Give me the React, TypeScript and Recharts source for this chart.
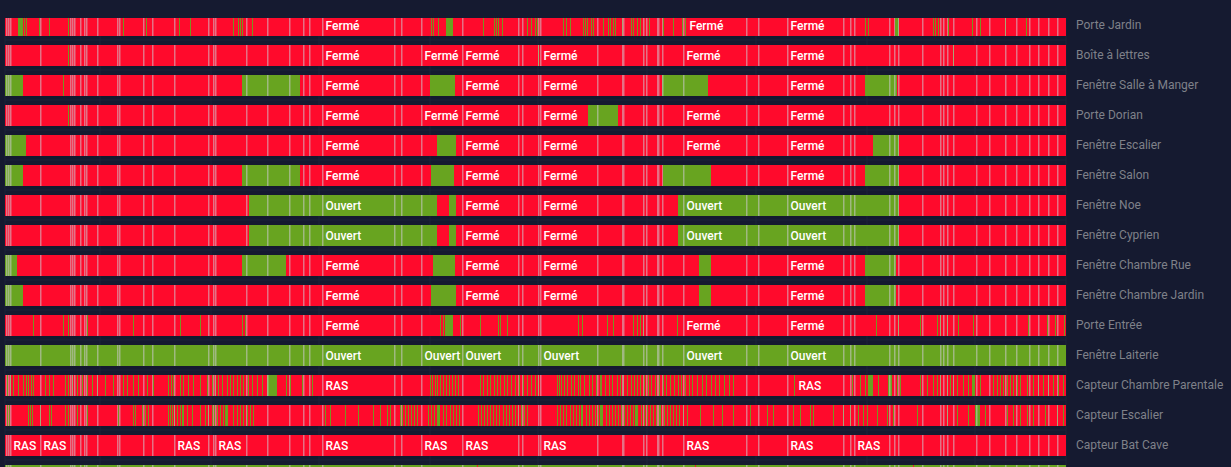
import React from 'react';
import { BarChart, Bar, XAxis, YAxis, CartesianGrid } from 'recharts';

// ---- time range (arbitrary minute units) ----
const T_START = 5;
const T_END = 1066;

// common sample timestamps (shown as light separators in every row)
const SAMPLE_TIMES = [6, 8, 10, 40, 70, 72, 74, 80, 84, 86, 97, 117, 119, 143, 152, 174, 208, 213, 215, 246, 267, 289, 303, 309, 322, 394, 401, 421, 462, 518, 522, 538, 540, 597, 622, 623, 643, 646, 657, 658, 662, 683, 746, 758, 787, 843, 850, 854, 889, 894, 898, 922, 940, 943, 947, 953, 976, 989, 1005, 1016, 1029, 1038, 1048, 1057];

const GRID_TIMES = [100, 211, 319, 430, 538, 647, 756, 867, 975];

const ROW_NAMES = [
  'Porte Jardin',
  'Boîte à lettres',
  'Fenêtre Salle à Manger',
  'Porte Dorian',
  'Fenêtre Escalier',
  'Fenêtre Salon',
  'Fenêtre Noe',
  'Fenêtre Cyprien',
  'Fenêtre Chambre Rue',
  'Fenêtre Chambre Jardin',
  'Porte Entrée',
  'Fenêtre Laiterie',
  'Capteur Chambre Parentale',
  'Capteur Escalier',
  'Capteur Bat Cave',
  '',
];

// 0 = closed / RAS (red), 1 = open / detection (green)
const BASE_STATE = [0, 0, 0, 0, 0, 0, 0, 0, 0, 0, 0, 1, 0, 0, 0, 1];
// which label set each row uses: 0 = door/window, 1 = sensor, 2 = not visible
const LABEL_SET = [0, 0, 0, 0, 0, 0, 0, 0, 0, 0, 0, 0, 1, 1, 1, 2];

const DOOR_LABELS = ['Fermé', 'Ouvert'];
const SENSOR_LABELS = ['RAS', ''];
const NO_LABELS = ['', ''];
const LABEL_SETS = [DOOR_LABELS, SENSOR_LABELS, NO_LABELS];

// intervals in the opposite state
const ROW1_BLOCKS = [[18, 23], [446, 453], [895, 899]];
const ROW1_BLIPS = [24, 26, 39, 49, 68, 123, 146, 179, 190, 233, 238, 240, 242, 252, 431, 433, 438, 483, 494, 496, 498, 502, 527, 531, 535, 537, 563, 566, 570, 583, 585, 587, 591, 593, 603, 608, 610, 613, 615, 622, 631, 633, 637, 640, 649, 663, 673, 682, 685, 865, 868, 933, 935, 938, 948, 972, 980, 1005, 1026];
const ROW2_BLOCKS: number[][] = [];
const ROW2_BLIPS = [68, 538, 953];
const ROW3_BLOCKS = [[5, 23], [242, 300], [430, 455], [662, 708], [865, 897]];
const ROW3_BLIPS = [63];
const ROW4_BLOCKS = [[588, 618]];
const ROW4_BLIPS = [68];
const ROW5_BLOCKS = [[5, 26], [437, 456], [873, 899]];
const ROW5_BLIPS: number[] = [];
const ROW6_BLOCKS = [[5, 23], [242, 300], [431, 454], [663, 711], [865, 899]];
const ROW6_BLIPS = [263];
const ROW7_BLOCKS = [[249, 437], [449, 456], [678, 899]];
const ROW7_BLIPS: number[] = [];
const ROW8_BLOCKS = [[249, 437], [449, 456], [678, 899]];
const ROW8_BLIPS: number[] = [];
const ROW9_BLOCKS = [[5, 17], [242, 286], [433, 455], [699, 711], [865, 896]];
const ROW9_BLIPS: number[] = [];
const ROW10_BLOCKS = [[5, 23], [431, 456], [699, 711], [865, 896]];
const ROW10_BLIPS: number[] = [];
const ROW11_BLOCKS = [[445, 453]];
const ROW11_BLIPS = [33, 63, 68, 87, 133, 180, 200, 242, 245, 440, 443, 460, 480, 498, 500, 507, 578, 582, 607, 613, 633, 637, 640, 643, 677, 876, 898, 920, 937, 940, 947, 958, 973, 1028, 1047, 1055, 1064];
const ROW12_BLOCKS: number[][] = [];
const ROW12_BLIPS: number[] = [];
const ROW13_BLOCKS = [[267, 277], [868, 873], [888, 892], [972, 975]];
const ROW13_BLIPS = [7, 10, 13, 18, 23, 26, 28, 31, 33, 45, 49, 53, 65, 68, 72, 77, 82, 87, 92, 97, 105, 113, 123, 127, 133, 138, 147, 153, 168, 171, 173, 180, 183, 188, 193, 200, 207, 212, 215, 218, 222, 227, 230, 233, 237, 240, 243, 248, 252, 257, 262, 286, 290, 302, 312, 430, 432, 435, 437, 440, 443, 446, 449, 452, 455, 458, 480, 483, 487, 490, 494, 497, 500, 504, 507, 511, 515, 519, 523, 527, 531, 535, 538, 557, 559, 561, 564, 567, 571, 574, 578, 580, 584, 589, 592, 596, 600, 601, 605, 609, 612, 617, 620, 623, 627, 631, 634, 637, 640, 644, 648, 651, 655, 659, 663, 666, 670, 674, 678, 681, 685, 689, 692, 697, 702, 706, 711, 715, 719, 724, 729, 733, 794, 852, 860, 865, 878, 897, 900, 920, 927, 933, 937, 940, 947, 950, 953, 957, 963, 968, 980, 993, 997, 1000, 1003, 1007, 1010, 1013, 1017, 1020, 1027, 1033, 1038, 1043, 1048, 1053, 1058, 1063];
const ROW14_BLOCKS = [[182, 184], [226, 228], [437, 440], [581, 583], [600, 603], [635, 638], [659, 661], [975, 980]];
const ROW14_BLIPS = [7, 9, 28, 30, 32, 40, 49, 51, 65, 68, 77, 87, 118, 133, 135, 142, 145, 148, 168, 170, 172, 174, 177, 180, 187, 192, 200, 205, 208, 212, 214, 217, 220, 223, 225, 233, 237, 240, 243, 247, 250, 253, 325, 330, 345, 358, 373, 380, 387, 390, 400, 402, 405, 408, 411, 414, 417, 428, 431, 434, 443, 446, 450, 453, 456, 459, 478, 481, 484, 487, 490, 493, 496, 499, 503, 506, 509, 512, 515, 518, 521, 524, 527, 557, 560, 563, 566, 570, 573, 576, 579, 586, 589, 592, 595, 598, 606, 609, 612, 615, 618, 621, 624, 627, 630, 633, 641, 644, 647, 650, 653, 656, 664, 667, 670, 673, 676, 679, 683, 687, 700, 713, 722, 733, 750, 767, 773, 793, 800, 810, 813, 833, 843, 850, 858, 863, 867, 877, 887, 893, 917, 947, 957, 968, 985, 1007, 1013, 1020, 1027, 1033, 1045, 1057, 1063];
const ROW15_BLOCKS: number[][] = [];
const ROW15_BLIPS: number[] = [];
const ROW16_BLOCKS: number[][] = [];
const ROW16_BLIPS = [477, 695, 913];

const ALL_BLOCKS = [ROW1_BLOCKS, ROW2_BLOCKS, ROW3_BLOCKS, ROW4_BLOCKS, ROW5_BLOCKS, ROW6_BLOCKS, ROW7_BLOCKS, ROW8_BLOCKS, ROW9_BLOCKS, ROW10_BLOCKS, ROW11_BLOCKS, ROW12_BLOCKS, ROW13_BLOCKS, ROW14_BLOCKS, ROW15_BLOCKS, ROW16_BLOCKS];
const ALL_BLIPS = [ROW1_BLIPS, ROW2_BLIPS, ROW3_BLIPS, ROW4_BLIPS, ROW5_BLIPS, ROW6_BLIPS, ROW7_BLIPS, ROW8_BLIPS, ROW9_BLIPS, ROW10_BLIPS, ROW11_BLIPS, ROW12_BLIPS, ROW13_BLIPS, ROW14_BLIPS, ROW15_BLIPS, ROW16_BLIPS];

const BLIP_DURATION = 0.9;

const BG = '#151a30';
const GRID = '#1d2239';
const RED = '#ff0a2c';
const GREEN = '#68a420';
const PALE = 'rgba(205, 200, 210, 0.55)';
const AXIS_TEXT = '#7f8189';
const FONT = 'Roboto, "Noto Sans", sans-serif';

const TEXT_WIDTH: Record<string, number> = { 'Fermé': 33, 'Ouvert': 35, 'RAS': 24 };

type Segment = { row: number; range: [number, number]; state: number; edge: boolean; text: string };

function buildSegments(): Segment[] {
  const sampleSet = new Set(SAMPLE_TIMES);
  const out: Segment[] = [];
  ROW_NAMES.forEach((_, ri) => {
    const base = BASE_STATE[ri];
    const labels = LABEL_SETS[LABEL_SET[ri]];
    const flips: number[][] = [
      ...ALL_BLOCKS[ri],
      ...ALL_BLIPS[ri].map((b) => [b, b + BLIP_DURATION]),
    ];
    const pts = new Set<number>([T_START, T_END, ...SAMPLE_TIMES]);
    flips.forEach(([s, e]) => {
      pts.add(Math.max(T_START, s));
      pts.add(Math.min(T_END, e));
    });
    const sorted = Array.from(pts).filter((p) => p >= T_START && p <= T_END).sort((a, b) => a - b);
    for (let i = 0; i < sorted.length - 1; i++) {
      const a = sorted[i];
      const b = sorted[i + 1];
      if (b - a <= 0) continue;
      const mid = (a + b) / 2;
      const flipped = flips.some(([s, e]) => mid > s && mid < e);
      const state = flipped ? 1 - base : base;
      out.push({ row: ri, range: [a, b], state, edge: sampleSet.has(a), text: labels[state] });
    }
  });
  return out;
}

const SEGMENTS = buildSegments();

const SegmentShape = (props: any) => {
  const { x, y, width, height } = props;
  const p: Segment = props.payload || props;
  if (width == null || !(width > 0)) return null;
  const fill = p.state === 1 ? GREEN : RED;
  const tw = TEXT_WIDTH[p.text];
  const showText = !!p.text && tw != null && width >= tw + 6;
  return (
    <g>
      <rect x={x} y={y} width={width + 0.5} height={height} fill={fill} />
      {p.edge && <rect x={x} y={y} width={1.5} height={height} fill={PALE} />}
      {showText && (
        <text
          x={x + 3.5}
          y={y + height / 2}
          dominantBaseline="central"
          fill="#ffffff"
          fontSize={12}
          fontWeight={500}
          fontFamily={FONT}
        >
          {p.text}
        </text>
      )}
    </g>
  );
};

const RowTick = (props: any) => {
  const { x, y, payload } = props;
  const name = ROW_NAMES[payload.value] ?? '';
  if (!name) return null;
  return (
    <text x={x} y={y} dominantBaseline="central" textAnchor="start" fill={AXIS_TEXT} fontSize={12} fontFamily={FONT}>
      {name}
    </text>
  );
};

const ROW_INDEXES = ROW_NAMES.map((_, i) => i);
const ROW_DOMAIN: [number, number] = [-0.5, ROW_NAMES.length - 0.5];

export default function App() {
  return (
    <div style={{ position: 'absolute', left: 0, top: 0, width: 1231, height: 467, background: BG, overflow: 'hidden' }}>
      <div style={{ position: 'absolute', left: 0, top: 18, width: 1231, height: 449, overflow: 'hidden' }}>
        <div style={{ position: 'absolute', left: 0, top: -8.5 }}>
          <BarChart
            width={1231}
            height={480}
            data={SEGMENTS}
            layout="vertical"
            margin={{ top: 0, right: 0, bottom: 0, left: 5 }}
          >
            <CartesianGrid
              stroke={GRID}
              vertical={true}
              horizontalCoordinatesGenerator={({ offset }: any) =>
                ROW_NAMES.map((_, i) => offset.top + (i * offset.height) / ROW_NAMES.length).concat([offset.top + offset.height])
              }
            />
            <XAxis type="number" domain={[T_START, T_END]} allowDataOverflow ticks={GRID_TIMES} hide />
            <YAxis
              type="number"
              dataKey="row"
              domain={() => ROW_DOMAIN}
              allowDataOverflow
              ticks={ROW_INDEXES}
              interval={0}
              orientation="right"
              width={165}
              axisLine={false}
              tickLine={false}
              tickSize={0}
              tickMargin={10}
              tick={<RowTick />}
            />
            <Bar dataKey="range" barSize={21} isAnimationActive={false} shape={SegmentShape} />
          </BarChart>
        </div>
      </div>
    </div>
  );
}
